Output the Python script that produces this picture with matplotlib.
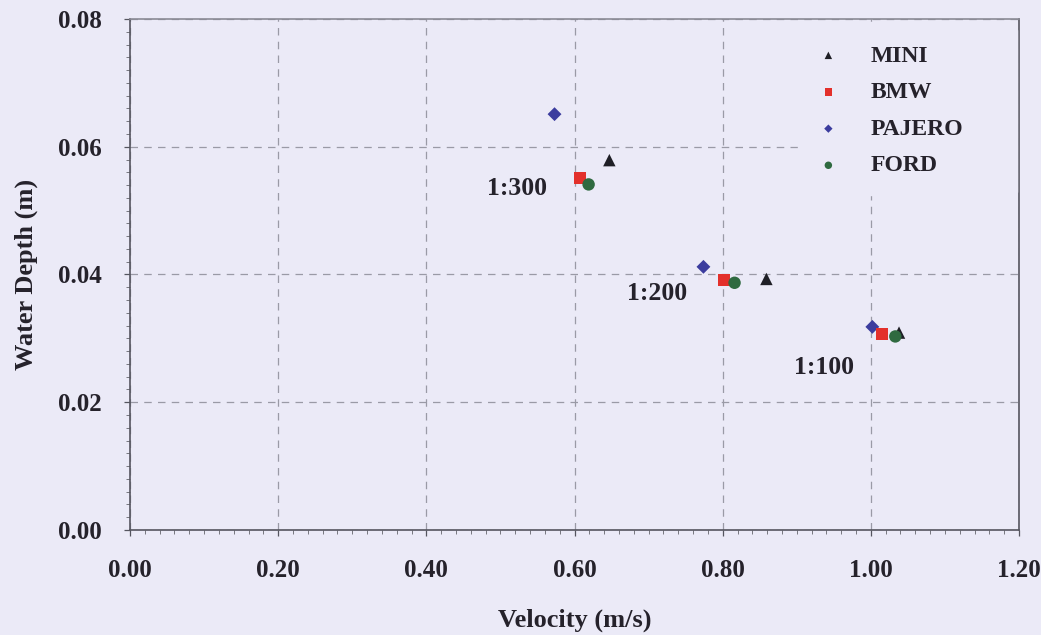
import matplotlib
matplotlib.use("Agg")
import matplotlib.pyplot as plt
from matplotlib.ticker import MultipleLocator, FormatStrFormatter

# Velocity (m/s) and water depth (m) at the instability point, per vehicle model
series_names = ["MINI", "BMW", "PAJERO", "FORD"]
# order of points in each series: 1:300, 1:200, 1:100 scale
mini_velocity = [0.647, 0.859, 1.038]
mini_depth = [0.0579, 0.0393, 0.0309]
bmw_velocity = [0.607, 0.802, 1.015]
bmw_depth = [0.0551, 0.0392, 0.0307]
pajero_velocity = [0.573, 0.774, 1.002]
pajero_depth = [0.0651, 0.0412, 0.0318]
ford_velocity = [0.619, 0.816, 1.033]
ford_depth = [0.0541, 0.0387, 0.0303]

scale_labels = ["1:300", "1:200", "1:100"]
scale_label_x = [0.523, 0.712, 0.937]
scale_label_y = [0.0535, 0.0370, 0.0255]

x_ticks = [0.0, 0.2, 0.4, 0.6, 0.8, 1.0, 1.2]
y_ticks = [0.0, 0.02, 0.04, 0.06, 0.08]

bg = "#ebeaf7"
ink = "#25222b"
serif = ["Liberation Serif", "DejaVu Serif"]
plt.rcParams["font.family"] = serif
plt.rcParams["font.weight"] = "bold"

fig = plt.figure(figsize=(10.41, 6.35), dpi=100, facecolor=bg)
ax = fig.add_axes([0.1249, 0.1654, 0.854, 0.8047], facecolor=bg)

styles = {
    "MINI": dict(marker="^", color="#1f1f26", z=3.0),
    "BMW": dict(marker="s", color="#e3302b", z=3.2),
    "PAJERO": dict(marker="D", color="#3b3c9e", z=3.1),
    "FORD": dict(marker="o", color="#2f6a40", z=3.3),
}
data = {
    "MINI": (mini_velocity, mini_depth),
    "BMW": (bmw_velocity, bmw_depth),
    "PAJERO": (pajero_velocity, pajero_depth),
    "FORD": (ford_velocity, ford_depth),
}
sizes = {"MINI": 80, "BMW": 75, "PAJERO": 50, "FORD": 80}

for name in series_names:
    vx, vy = data[name]
    ax.scatter(vx, vy, s=sizes[name], marker=styles[name]["marker"],
               color=styles[name]["color"], edgecolors="none", label=name,
               zorder=styles[name]["z"])

for lbl, lx, ly in zip(scale_labels, scale_label_x, scale_label_y):
    ax.text(lx, ly, lbl, ha="center", va="center", fontsize=18.5,
            fontweight="bold", color=ink, zorder=4)

ax.set_xlim(0, 1.2)
ax.set_ylim(0, 0.08)
ax.set_xticks(x_ticks)
ax.set_yticks(y_ticks)
ax.xaxis.set_major_formatter(FormatStrFormatter("%.2f"))
ax.yaxis.set_major_formatter(FormatStrFormatter("%.2f"))
ax.xaxis.set_minor_locator(MultipleLocator(0.02))
ax.yaxis.set_minor_locator(MultipleLocator(0.002))

ax.grid(True, which="major", linestyle=(0, (6, 5)), color="#9a9aa6",
        linewidth=0.9, zorder=1)

for side in ["left", "bottom", "right", "top"]:
    ax.spines[side].set_color("#55555f")
    ax.spines[side].set_linewidth(1.2)
ax.spines["top"].set_color("#8a8a95")

ax.tick_params(axis="both", which="major", length=4, width=0.9,
               colors="#55555f", labelcolor=ink, labelsize=18)
ax.tick_params(axis="both", which="minor", length=3, width=0.7,
               colors="#77777f")
ax.tick_params(axis="x", which="major", pad=17)
ax.tick_params(axis="y", which="major", pad=16)
for t in ax.get_xticklabels() + ax.get_yticklabels():
    t.set_fontweight("bold")

ax.set_xlabel("Velocity (m/s)", fontsize=19, fontweight="bold",
              color=ink, labelpad=19)
ax.set_ylabel("Water Depth (m)", fontsize=19, fontweight="bold",
              color=ink, labelpad=15)

# legend panel spans from x=0.751 to just inside the right spine
leg = ax.legend(loc="upper left", bbox_to_anchor=(0.751, 0.0, 0.247, 0.986),
                mode="expand", frameon=True, facecolor=bg, edgecolor=bg,
                framealpha=1.0, markerscale=0.6, handletextpad=1.3,
                labelspacing=0.64, borderpad=0.8, handlelength=1.0,
                borderaxespad=0.0,
                prop={"family": serif, "weight": "bold", "size": 17})
leg.set_zorder(5)
for txt in leg.get_texts():
    txt.set_color(ink)

fig.savefig("out.png", dpi=100, facecolor=bg)
